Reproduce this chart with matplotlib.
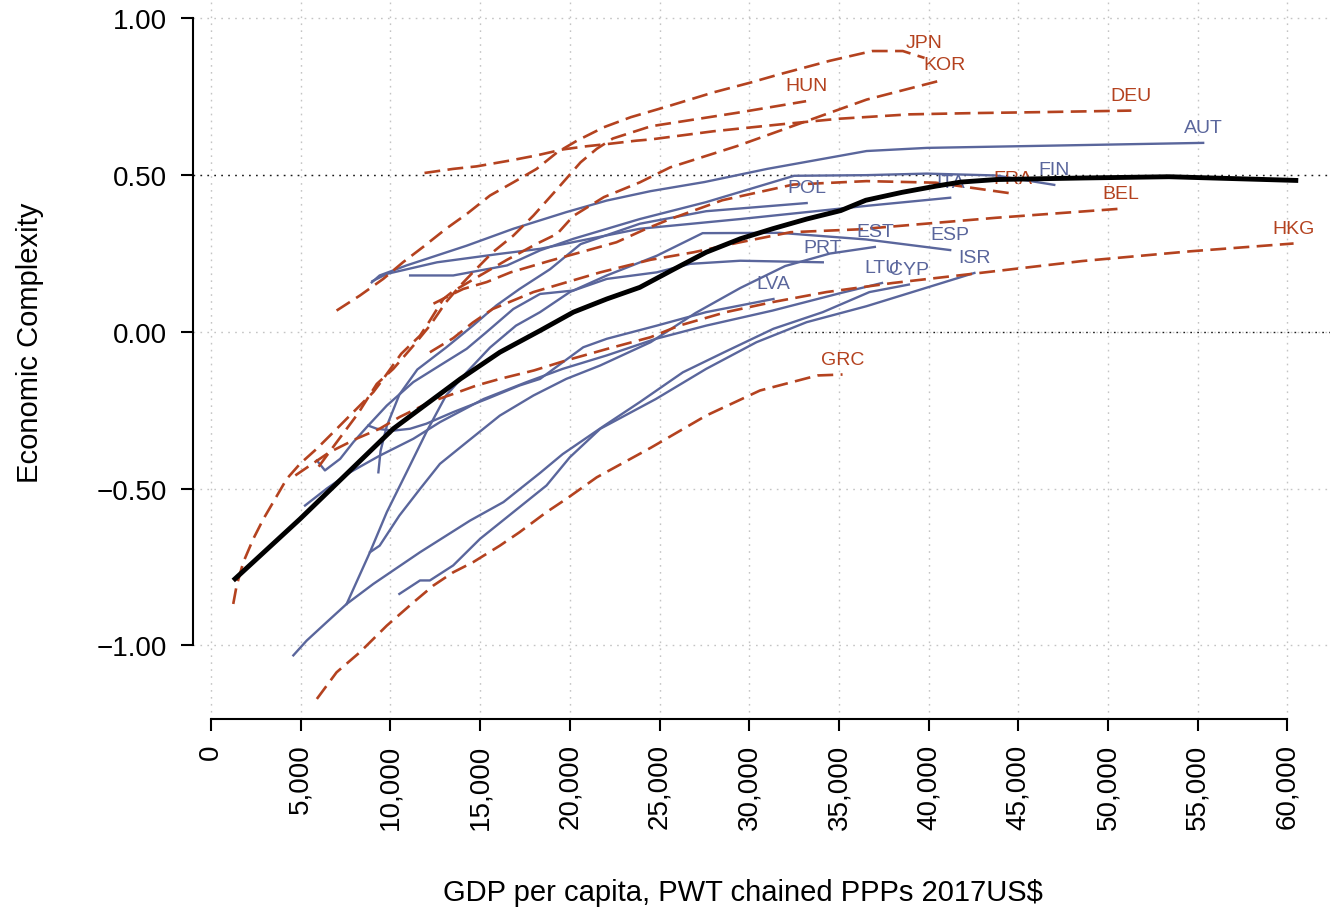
"""Economic complexity vs GDP per capita, country trajectories."""
import numpy as np
import matplotlib
matplotlib.use("Agg")
import matplotlib.pyplot as plt
from matplotlib.ticker import FixedLocator, FuncFormatter

plt.rcParams['font.family'] = ['Liberation Sans', 'DejaVu Sans']

# GDP per capita in thousands of 2017US$, economic complexity index
avg_gdp = [1.24, 4.96, 10.16, 13.9, 16.1, 18.34, 20.2, 22.06, 23.9, 25.8, 27.6, 29.5,
           31.3, 33.2, 35.1, 36.5, 38.5, 40.4, 41.8, 43.75, 48.6, 53.4, 55.8, 60.6]
avg_eci = [-0.793, -0.597, -0.309, -0.15, -0.065, 0.004, 0.063, 0.105, 0.142, 0.2, 0.254, 0.297,
           0.329, 0.36, 0.387, 0.42, 0.445, 0.465, 0.478, 0.486, 0.491, 0.495, 0.491, 0.483]

# red dashed group
jpn_gdp = [7.0, 8.3, 9.6, 10.7, 11.8, 13.1, 14.25, 15.55, 16.85, 18.15, 19.3, 20.4, 21.9,
           23.4, 25.6, 28.0, 30.05, 31.7, 34.5, 36.86, 38.56, 39.77]
jpn_eci = [0.068, 0.116, 0.169, 0.222, 0.27, 0.329, 0.376, 0.435, 0.477, 0.52, 0.573, 0.61, 0.653,
           0.685, 0.722, 0.764, 0.795, 0.822, 0.865, 0.896, 0.896, 0.874]
kor_gdp = [1.24, 1.43, 1.8, 2.36, 2.92, 3.47, 4.22, 4.96, 5.89, 6.82, 7.93, 9.05, 9.6, 10.6,
           11.65, 12.2, 12.95, 13.5, 15.0, 16.5, 18.15, 19.3, 20.2, 21.9, 23.9, 25.6, 29.33,
           32.93, 36.54, 40.87]
kor_eci = [-0.868, -0.809, -0.735, -0.66, -0.597, -0.543, -0.469, -0.421, -0.373, -0.32, -0.256,
           -0.192, -0.15, -0.07, -0.012, 0.036, 0.105, 0.13, 0.18, 0.23, 0.281, 0.313, 0.37, 0.43,
           0.477, 0.525, 0.593, 0.667, 0.741, 0.805]
hun_gdp = [6.0, 6.9, 8.2, 9.24, 10.16, 11.28, 12.2, 13.1, 13.9, 14.6, 15.7, 16.85, 17.97, 19.3,
           20.6, 21.5, 22.4, 24.52, 29.33, 33.17]
hun_eci = [-0.43, -0.36, -0.26, -0.166, -0.118, -0.044, 0.02, 0.095, 0.148, 0.19, 0.254, 0.307,
           0.371, 0.456, 0.541, 0.584, 0.617, 0.656, 0.699, 0.736]
deu_gdp = [11.9, 13.5, 14.8, 16.7, 18.15, 19.6, 20.9, 22.2, 23.7, 24.52, 28.0, 31.73, 35.0,
           38.94, 42.5, 46.15, 51.3]
deu_eci = [0.507, 0.52, 0.528, 0.547, 0.563, 0.582, 0.592, 0.6, 0.61, 0.614, 0.64, 0.662, 0.68,
           0.694, 0.698, 0.701, 0.706]
fra_gdp = [12.4, 13.3, 14.06, 15.37, 16.7, 18.9, 20.6, 22.6, 24.3, 25.6, 28.5, 32.45, 36.54,
           40.39, 44.7]
fra_eci = [0.09, 0.116, 0.137, 0.159, 0.19, 0.227, 0.254, 0.286, 0.33, 0.36, 0.42, 0.47, 0.481,
           0.476, 0.441]
bel_gdp = [12.2, 13.5, 14.6, 15.7, 17.97, 19.8, 21.7, 24.5, 26.9, 29.5, 32.3, 36.06, 43.75, 50.7]
bel_eci = [-0.065, -0.02, 0.03, 0.073, 0.127, 0.158, 0.19, 0.23, 0.254, 0.286, 0.318, 0.327,
           0.364, 0.393]
hkg_gdp = [4.7, 6.6, 8.1, 9.4, 10.5, 12.2, 13.5, 14.8, 16.1, 18.0, 19.8, 22.1, 24.5, 26.1, 28.7,
           31.3, 34.3, 38.0, 41.35, 48.56, 54.57, 60.34]
hkg_eci = [-0.458, -0.384, -0.341, -0.309, -0.272, -0.224, -0.198, -0.171, -0.15, -0.123, -0.091,
           -0.054, -0.017, 0.02, 0.063, 0.095, 0.127, 0.156, 0.178, 0.226, 0.257, 0.282]
grc_gdp = [5.9, 7.0, 8.3, 9.8, 11.3, 12.4, 13.5, 14.6, 16.1, 17.2, 18.7, 19.8, 21.5, 24.5, 27.6,
           30.6, 33.8, 35.2]
grc_eci = [-1.171, -1.086, -1.022, -0.937, -0.862, -0.809, -0.767, -0.735, -0.682, -0.639, -0.575,
           -0.533, -0.464, -0.37, -0.267, -0.187, -0.139, -0.136]

# blue solid group
aut_gdp = [8.96, 9.4, 10.9, 14.25, 16.85, 19.8, 22.06, 24.5, 27.5, 31.0, 36.54, 39.9, 48.56, 55.3]
aut_eci = [0.158, 0.18, 0.212, 0.275, 0.329, 0.382, 0.419, 0.449, 0.478, 0.52, 0.577, 0.587,
           0.596, 0.603]
fin_gdp = [11.1, 13.5, 16.5, 18.34, 20.2, 23.9, 27.6, 32.5, 36.5, 39.9, 43.75, 47.0]
fin_eci = [0.18, 0.18, 0.212, 0.26, 0.297, 0.36, 0.414, 0.498, 0.5, 0.505, 0.499, 0.469]
ita_gdp = [9.0, 9.8, 12.6, 16.1, 18.34, 23.9, 29.5, 36.7, 41.2]
ita_eci = [0.162, 0.185, 0.222, 0.249, 0.265, 0.329, 0.36, 0.403, 0.428]
pol_gdp = [9.33, 9.45, 9.8, 10.5, 11.5, 13.1, 14.6, 15.9, 17.2, 18.9, 20.6, 23.9, 27.6, 33.2]
pol_eci = [-0.448, -0.38, -0.3, -0.2, -0.12, -0.05, 0.02, 0.084, 0.137, 0.2, 0.28, 0.345, 0.385,
           0.411]
esp_gdp = [7.56, 8.86, 9.8, 10.9, 12.0, 13.1, 14.25, 15.55, 17.0, 18.34, 20.0, 22.06, 24.85,
           27.4, 31.7, 36.5, 41.2]
esp_eci = [-0.868, -0.703, -0.575, -0.448, -0.32, -0.203, -0.129, -0.05, 0.02, 0.063, 0.127,
           0.18, 0.243, 0.315, 0.316, 0.295, 0.261]
prt_gdp = [5.9, 6.35, 7.2, 7.93, 8.68, 9.8, 11.28, 12.76, 14.25, 15.37, 16.85, 18.34, 20.2, 22.06,
           24.85, 26.7, 29.5, 34.1]
prt_eci = [-0.41, -0.442, -0.405, -0.352, -0.304, -0.235, -0.16, -0.107, -0.054, 0.0, 0.073,
           0.121, 0.132, 0.169, 0.19, 0.217, 0.227, 0.222]
lva_gdp = [8.77, 9.24, 10.16, 11.1, 12.0, 13.5, 15.37, 17.2, 18.34, 20.75, 22.06, 24.85, 27.6,
           31.35]
lva_eci = [-0.299, -0.309, -0.315, -0.309, -0.293, -0.256, -0.214, -0.171, -0.15, -0.049, -0.022,
           0.02, 0.063, 0.105]
est_gdp = [8.86, 9.4, 10.5, 11.65, 12.76, 14.25, 16.1, 17.97, 19.8, 21.7, 24.5, 27.0, 29.5, 32.0,
           34.5, 37.0]
est_eci = [-0.703, -0.682, -0.586, -0.501, -0.421, -0.352, -0.267, -0.203, -0.15, -0.107, -0.033,
           0.06, 0.14, 0.21, 0.25, 0.271]
ltu_gdp = [5.24, 6.45, 7.75, 9.4, 11.28, 12.76, 15.2, 17.6, 19.6, 22.06, 24.8, 27.6, 31.3, 35.1,
           37.4]
ltu_eci = [-0.554, -0.5, -0.448, -0.395, -0.341, -0.288, -0.214, -0.16, -0.118, -0.075, -0.022,
           0.02, 0.068, 0.124, 0.156]
cyp_gdp = [4.59, 5.33, 6.45, 7.56, 9.05, 11.65, 14.44, 16.3, 18.34, 19.6, 21.9, 23.9, 26.3, 28.6,
           31.35, 34.1, 36.7, 38.9]
cyp_eci = [-1.032, -0.985, -0.926, -0.868, -0.804, -0.703, -0.602, -0.543, -0.45, -0.39, -0.3,
           -0.224, -0.129, -0.065, 0.01, 0.063, 0.127, 0.151]
isr_gdp = [10.5, 11.65, 12.2, 13.5, 15.0, 16.85, 18.7, 20.0, 21.7, 24.8, 27.6, 30.4, 33.2, 36.54,
           42.55]
isr_eci = [-0.836, -0.793, -0.793, -0.745, -0.66, -0.575, -0.49, -0.4, -0.309, -0.214, -0.118,
           -0.033, 0.031, 0.082, 0.188]

red_series = [("JPN", jpn_gdp, jpn_eci), ("KOR", kor_gdp, kor_eci), ("HUN", hun_gdp, hun_eci),
              ("DEU", deu_gdp, deu_eci), ("FRA", fra_gdp, fra_eci), ("BEL", bel_gdp, bel_eci),
              ("HKG", hkg_gdp, hkg_eci), ("GRC", grc_gdp, grc_eci)]
blue_series = [("AUT", aut_gdp, aut_eci), ("FIN", fin_gdp, fin_eci), ("ITA", ita_gdp, ita_eci),
               ("POL", pol_gdp, pol_eci), ("ESP", esp_gdp, esp_eci), ("PRT", prt_gdp, prt_eci),
               ("LVA", lva_gdp, lva_eci), ("EST", est_gdp, est_eci), ("LTU", ltu_gdp, ltu_eci),
               ("CYP", cyp_gdp, cyp_eci), ("ISR", isr_gdp, isr_eci)]

x_ticks = list(range(0, 60001, 5000))
y_ticks = [-1.0, -0.5, 0.0, 0.5, 1.0]

RED = "#b4421f"
BLUE = "#5a669c"
GRID = "#c4c4c4"
DOT = (0, (1.2, 3.8))

fig = plt.figure(figsize=(13.3, 9.12), dpi=100)
ax = fig.add_axes([193 / 1330, 192 / 912, 1137 / 1330, 720 / 912])
ax.set_xlim(-1003, 62370)
ax.set_ylim(-1.235, 1.062)

# grid
for xv in x_ticks:
    ax.axvline(xv, color=GRID, lw=1.0, ls=DOT, zorder=0)
for yv in y_ticks:
    ax.axhline(yv, color=GRID, lw=1.0, ls=DOT, zorder=0)
ax.axhline(0.5, color="#1a1a1a", lw=1.0, ls=DOT, zorder=0.5)
x0, x1 = ax.get_xlim()
ax.axhline(0.0, xmin=(32500 - x0) / (x1 - x0), color="#1a1a1a", lw=1.0, ls=DOT, zorder=0.5)


def draw(series, color, dashed):
    for name, gdp, eci in series:
        gx = np.array(gdp) * 1000
        kw = dict(color=color, lw=1.7, zorder=2)
        if dashed:
            kw.update(lw=1.9, dashes=(6, 2.8))
        ax.plot(gx, eci, **kw)
        ax.annotate(name, (gx[-1], eci[-1]), xytext=(0, 11), textcoords="offset points",
                    ha="center", va="center", color=color, fontsize=14, zorder=3)


draw(blue_series, BLUE, False)
draw(red_series, RED, True)

ax.plot(np.array(avg_gdp) * 1000, avg_eci, color="black", lw=3.5, zorder=4,
        solid_capstyle="butt")

# axes styling
for side in ("top", "right"):
    ax.spines[side].set_visible(False)
ax.spines["left"].set_bounds(-1, 1)
ax.spines["bottom"].set_bounds(0, 60000)
for side in ("left", "bottom"):
    ax.spines[side].set_linewidth(1.5)
ax.xaxis.set_major_locator(FixedLocator(x_ticks))
ax.yaxis.set_major_locator(FixedLocator(y_ticks))
ax.xaxis.set_major_formatter(FuncFormatter(lambda v, p: f"{int(v):,}"))
ax.yaxis.set_major_formatter(FuncFormatter(lambda v, p: f"{v:.2f}".replace("-", "\u2212")))
ax.tick_params(axis="x", labelrotation=90, length=8.5, width=1.5, pad=9, labelsize=20)
ax.tick_params(axis="y", length=8.5, width=1.5, pad=10, labelsize=20)

fig.text(30 / 1330, 1 - 343 / 912, "Economic Complexity", rotation=90, ha="center",
         va="center", fontsize=21)
fig.text(743 / 1330, 1 - 893 / 912, "GDP per capita, PWT chained PPPs 2017US$", ha="center",
         va="center", fontsize=21)

fig.savefig("out.png", dpi=100)
